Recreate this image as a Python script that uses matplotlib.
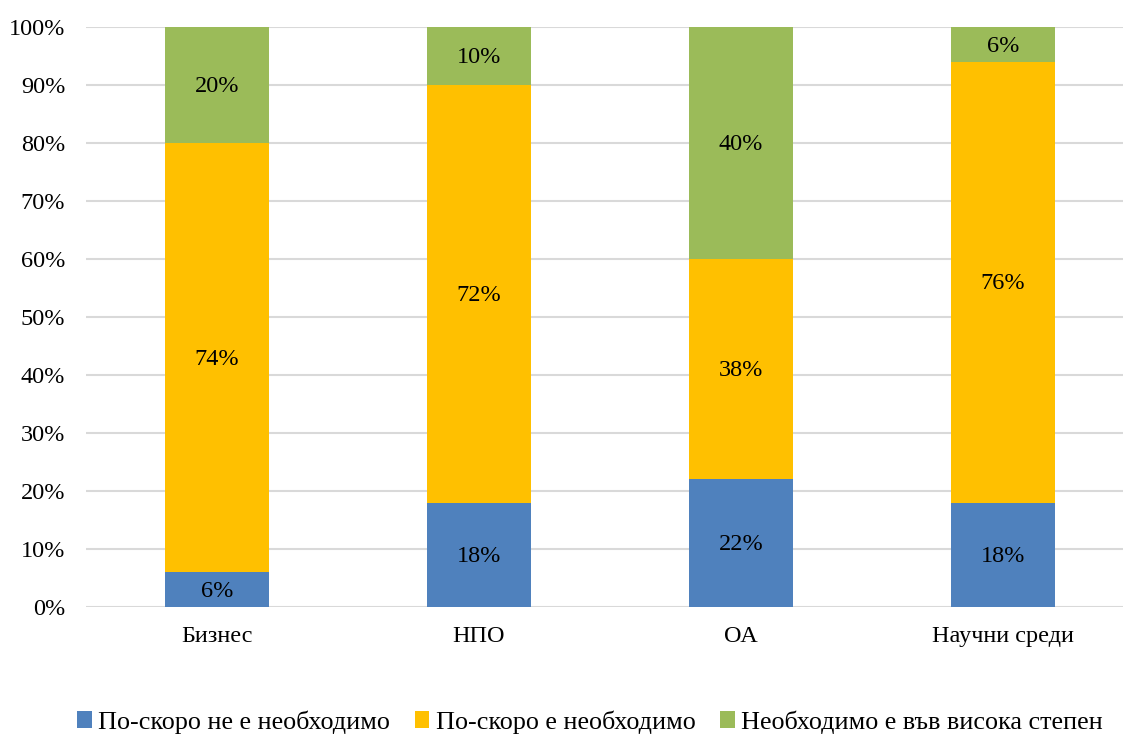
import matplotlib
matplotlib.use("Agg")
import matplotlib.pyplot as plt
import numpy as np

categories = ["Бизнес", "НПО", "ОА", "Научни среди"]
series_names = ["По-скоро не е необходимо", "По-скоро е необходимо", "Необходимо е във висока степен"]
not_needed = [6, 18, 22, 18]
rather_needed = [74, 72, 38, 76]
highly_needed = [20, 10, 40, 6]
colors = ["#4F81BD", "#FFC000", "#9BBB59"]

plt.rcParams['font.family'] = ['Liberation Serif', 'DejaVu Serif']

fig = plt.figure(figsize=(11.23, 7.36), dpi=100)
ax = fig.add_axes([86/1123, 1 - 607/736, (1134 - 86)/1123, (607 - 27)/736])

x = np.arange(len(categories))
bottom = np.zeros(len(categories))
for name, vals, c in zip(series_names, [not_needed, rather_needed, highly_needed], colors):
    vals = np.array(vals, dtype=float)
    ax.bar(x, vals, 0.4, bottom=bottom, color=c, label=name, zorder=3)
    for xi, b, v in zip(x, bottom, vals):
        ax.text(xi, b + v / 2 - 0.3, f"{int(v)}%", ha="center", va="center", fontsize=17.5, color="black", zorder=4)
    bottom += vals

ax.set_xlim(-0.5, 3.5)
ax.set_ylim(0, 100)
ax.set_yticks(np.arange(0, 101, 10))
ax.set_yticklabels([f"{v}%" for v in range(0, 101, 10)], fontsize=17.5)
ax.set_xticks(x)
ax.set_xticklabels(categories, fontsize=17.5)
ax.tick_params(axis="both", length=0)
ax.tick_params(axis="y", pad=15)
ax.tick_params(axis="x", pad=14)
ax.grid(axis="y", color="#D9D9D9", linewidth=1.5, zorder=0)
for s in ax.spines.values():
    s.set_visible(False)

handles, labels = ax.get_legend_handles_labels()
fig.legend(handles, labels, loc="center", bbox_to_anchor=(590/1123, 1 - 722/736), ncol=3,
           frameon=False, fontsize=18.8, handlelength=0.55, handleheight=0.6, handletextpad=0.25,
           columnspacing=0.95, borderpad=0.1, borderaxespad=0)

fig.savefig("out.png", dpi=100)
